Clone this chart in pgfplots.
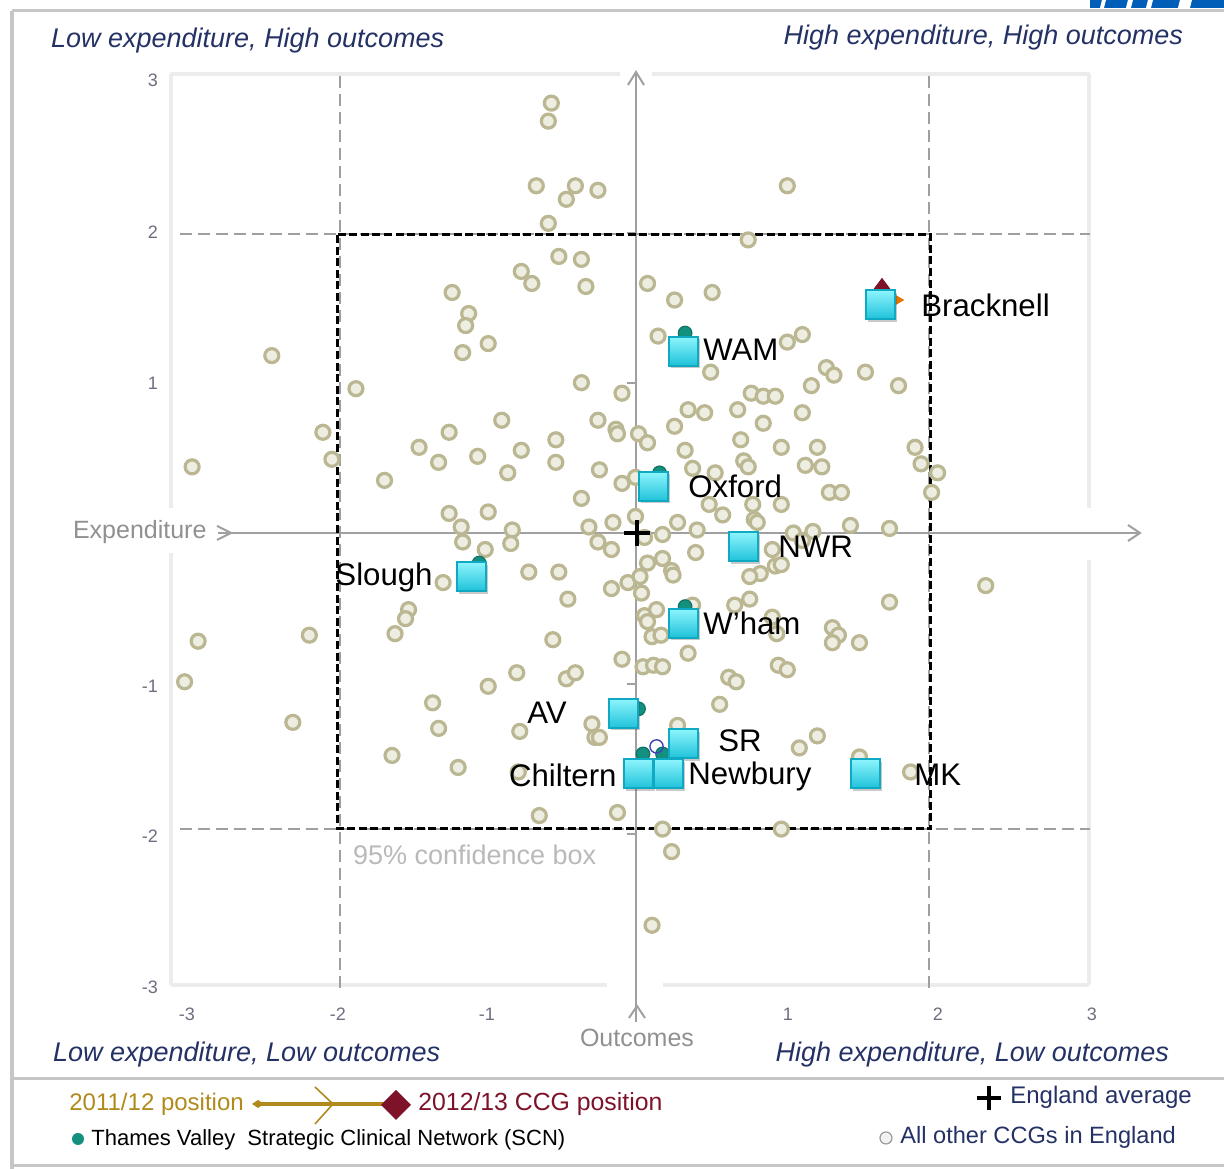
\documentclass[border=0pt]{standalone}
\usepackage{fontspec}
\setmainfont{Liberation Sans}
\usepackage{pgfplots}
\pgfplotsset{compat=1.18}
\usetikzlibrary{shadows}
\definecolor{dotdraw}{HTML}{BAB792}
\definecolor{dotfill}{HTML}{EEEDE2}
\definecolor{tealdot}{HTML}{14907F}
\definecolor{sqtop}{HTML}{8EF5FD}
\definecolor{sqbot}{HTML}{1FC2DA}
\definecolor{sqdraw}{HTML}{10A9C4}
\definecolor{navy}{HTML}{243165}
\definecolor{gold}{HTML}{B08A1C}
\definecolor{maroon}{HTML}{7D1228}
\definecolor{axgray}{HTML}{A0A0A0}
\definecolor{framegray}{HTML}{ECECEC}
\definecolor{outergray}{HTML}{C6C6C6}
\definecolor{ticklab}{HTML}{6D6D80}
\definecolor{nhsblue}{HTML}{005EB8}
\begin{document}
\begin{tikzpicture}
\path[use as bounding box] (0,0) rectangle (612bp,584.5bp);
% ---------- background decorations (pixel grid: 1px = 0.5bp) ----------
\begin{scope}[shift={(0,584.5bp)}, x=0.5bp, y=-0.5bp]
  % NHS logo fragment
  \fill[nhsblue] (1090,0) rectangle (1224,8);
  \fill[white] (1100,8) -- (1104,8) -- (1106,0) -- (1102,0) -- cycle;
  \fill[white] (1126,8) -- (1131,8) -- (1133,0) -- (1128,0) -- cycle;
  \fill[white] (1146,8) -- (1151,8) -- (1153,0) -- (1148,0) -- cycle;
  \fill[white] (1178,8) -- (1190,8) -- (1192,0) -- (1180,0) -- cycle;
  % outer frame
  \draw[outergray, line width=1.5bp] (12,11) -- (1224,11);
  \draw[outergray, line width=2bp] (12,11) -- (12,1169);
  \draw[outergray, line width=1.5bp] (12,1079) -- (1224,1079);
  \draw[outergray, line width=1.5bp] (12,1166) -- (1224,1166);
  % light plot frame
  \begin{scope}[framegray, line width=2bp]
    \draw (170,74) -- (620,74); \draw (652,74) -- (1090,74);
    \draw (171,74) -- (171,508); \draw (171,553) -- (171,985);
    \draw (171,985) -- (607,985); \draw (663,985) -- (1089,985);
    \draw (1089,74) -- (1089,508); \draw (1089,560) -- (1089,985);
  \end{scope}
  % thin grey dashed lines
  \begin{scope}[gray!75, line width=0.6bp, dash pattern=on 6bp off 3bp]
    \draw (180,234) -- (1090,234);
    \draw (180,829) -- (1090,829);
    \draw (340,76) -- (340,990);
    \draw (929,76) -- (929,990);
  \end{scope}
  % axes with arrows
  \begin{scope}[axgray, line width=1bp]
    \draw (218,533) -- (1140,533);
    \draw (217,526) -- (231,533) -- (217,540);
    \draw (1128,525) -- (1140,533) -- (1128,541);
    \draw (636,72) -- (636,1022);
    \draw (628,85) -- (636,72) -- (644,85);
    \draw (629,1018) -- (637,1006) -- (645,1018);
    \foreach \yy in {233,383,684,834} \draw (627,\yy) -- (636,\yy);
  \end{scope}
  % 95% confidence box
  \draw[black, line width=1.5bp, dash pattern=on 4bp off 1.8bp] (338,235) rectangle (931,829);
  % axis texts
  \node[anchor=west, text=axgray!90!black, font=\fontsize{12.5bp}{14bp}\selectfont] at (66,532) {Expenditure};
  \node[text=axgray!90!black, font=\fontsize{12.5bp}{14bp}\selectfont] at (637,1038) {Outcomes};
  \node[anchor=west, text=gray!55, font=\fontsize{13.5bp}{15bp}\selectfont] at (346,855) {95\% confidence box};
  % tick labels
  \begin{scope}[font=\fontsize{9bp}{10bp}\selectfont, text=ticklab]
    \node[anchor=east] at (165,80) {3};
    \node[anchor=east] at (165,232) {2};
    \node[anchor=east] at (165,383) {1};
    \node[anchor=east] at (165,686) {-1};
    \node[anchor=east] at (165,836) {-2};
    \node[anchor=east] at (165,987) {-3};
    \node at (187,1014) {-3};
    \node at (338,1014) {-2};
    \node at (487,1014) {-1};
    \node at (788,1014) {1};
    \node at (938,1014) {2};
    \node at (1092,1014) {3};
  \end{scope}
  % quadrant labels
  \begin{scope}[text=navy, font=\fontsize{13.5bp}{15bp}\selectfont\itshape]
    \node[anchor=west] at (44,41) {Low expenditure, High outcomes};
    \node[anchor=east] at (1190,38) {High expenditure, High outcomes};
    \node[anchor=west] at (46,1055) {Low expenditure, Low outcomes};
    \node[anchor=east] at (1176,1055) {High expenditure, Low outcomes};
  \end{scope}
  % legend
  \node[anchor=west, text=gold, font=\fontsize{12bp}{14bp}\selectfont, inner sep=0pt] at (69,1104) {2011/12 position};
  \draw[gold, line width=2bp] (258,1104) -- (390,1104);
  \fill[gold] (252,1104) -- (258,1100) -- (264,1104) -- (258,1108) -- cycle;
  \draw[gold, line width=0.8bp] (315,1087) -- (333,1104) -- (315,1124);
  \fill[maroon] (381,1105) -- (396,1090) -- (411,1105) -- (396,1120) -- cycle;
  \node[anchor=west, text=maroon, font=\fontsize{12.4bp}{14bp}\selectfont, inner sep=0pt] at (418,1104) {2012/13 CCG position};
  \fill[tealdot] (78,1139) circle (6);
  \node[anchor=west, font=\fontsize{11bp}{13bp}\selectfont, inner sep=0pt] at (91,1140) {Thames Valley\ \ Strategic Clinical Network (SCN)};
  \draw[black, line width=2bp] (977,1098) -- (1001,1098) (989,1086) -- (989,1110);
  \node[anchor=west, text=navy, font=\fontsize{12bp}{14bp}\selectfont, inner sep=0pt] at (1010,1097) {England average};
  \draw[gray!80, fill=gray!10, line width=0.6bp] (886,1138) circle (6);
  \node[anchor=west, text=navy, font=\fontsize{11.8bp}{14bp}\selectfont, inner sep=0pt] at (900,1137) {All other CCGs in England};
\end{scope}
% ---------- data ----------
\begin{axis}[at={(0,0)}, anchor=south west, width=612bp, height=584.5bp, scale only axis,
  xmin=-4.2382, xmax=3.9055, ymin=-4.2315, ymax=3.5462, hide axis, clip=false]
% all other CCGs
\addplot[only marks, mark=*, mark size=3.5bp, mark options={draw=dotdraw, fill=dotfill, line width=1.6bp}] coordinates {
(-0.57,2.86) (-0.59,2.74) (-0.67,2.31) (-0.41,2.31) (-0.47,2.22) (-0.26,2.28) (-0.59,2.06)
(1.00,2.31) (0.74,1.95) (-0.52,1.84) (-0.37,1.82) (-0.77,1.74) (-0.70,1.66) (-0.34,1.64)
(-1.23,1.60) (-1.12,1.46) (-1.14,1.38) (-0.99,1.26) (-1.16,1.20) (-2.43,1.18) (-1.87,0.96)
(-0.37,1.00) (-0.10,0.93) (0.07,1.66) (0.25,1.55) (0.50,1.60) (0.14,1.31) (1.00,1.27)
(1.10,1.32) (0.49,1.07) (1.26,1.10) (1.31,1.05) (1.52,1.07) (1.74,0.98) (1.16,0.98)
(0.76,0.93) (0.84,0.91) (0.92,0.91) (0.34,0.82) (0.45,0.80) (0.67,0.82) (1.10,0.80)
(0.25,0.71) (0.84,0.73) (0.01,0.66) (0.07,0.60) (0.69,0.62) (0.32,0.55) (0.96,0.57)
(1.20,0.57) (1.85,0.57) (0.71,0.48) (0.74,0.44) (1.12,0.45) (1.23,0.44) (0.37,0.43)
(0.52,0.40) (1.89,0.46) (2.00,0.40) (1.28,0.27) (1.36,0.27) (1.96,0.27) (0.48,0.19)
(0.77,0.19) (0.96,0.19) (-0.01,0.11) (0.57,0.12) (0.78,0.09) (0.80,0.07) (0.27,0.07)
(0.40,0.02) (0.17,-0.01) (1.42,0.05) (1.68,0.03) (1.04,0.00) (1.17,0.01)
(-0.90,0.75) (-0.26,0.75) (-0.14,0.69) (-0.13,0.66) (-2.09,0.67) (-1.25,0.67) (-1.45,0.57)
(-0.54,0.62) (-0.77,0.55) (-2.03,0.49) (-1.32,0.47) (-1.06,0.51) (-0.54,0.47) (-0.86,0.40)
(-0.25,0.42) (-2.96,0.44) (-1.68,0.35) (-0.10,0.33) (-0.01,0.37) (-0.37,0.23) (-1.25,0.13)
(-0.99,0.14) (-0.16,0.07) (-1.17,0.04) (-0.83,0.02) (-0.32,0.04) (-1.16,-0.06) (-0.84,-0.07)
(-0.26,-0.06) (-0.17,-0.11) (-1.01,-0.11) (0.05,-0.03)
(-1.29,-0.33) (-0.72,-0.26) (-0.52,-0.26) (-0.46,-0.44) (-0.17,-0.37) (-0.06,-0.33)
(0.02,-0.29) (0.03,-0.40) (0.05,-0.55) (-0.56,-0.71) (-0.10,-0.84) (0.04,-0.89)
(-0.80,-0.93) (-0.47,-0.97) (-0.41,-0.93) (-0.99,-1.02) (-1.36,-1.13) (-1.52,-0.51)
(-1.54,-0.57) (-1.61,-0.67) (-2.92,-0.72) (-2.18,-0.68) (-3.01,-0.99) (-2.29,-1.26)
(-1.32,-1.30) (-0.78,-1.32) (-0.30,-1.27) (-0.28,-1.36) (-0.25,-1.36) (-1.63,-1.48)
(-1.19,-1.56) (-0.65,-1.88) (-0.13,-1.86) (-0.79,-1.59)
(0.39,-0.13) (0.07,-0.20) (0.17,-0.17) (0.23,-0.25) (0.24,-0.28) (0.13,-0.51) (0.07,-0.59)
(0.10,-0.69) (0.16,-0.68) (0.34,-0.80) (0.11,-0.88) (0.17,-0.89) (0.61,-0.96) (0.66,-0.99)
(0.55,-1.14) (0.94,-0.88) (1.00,-0.91) (1.30,-0.63) (1.34,-0.68) (1.30,-0.73) (1.48,-0.73)
(1.68,-0.46) (2.32,-0.35) (0.90,-0.56) (0.93,-0.67) (0.65,-0.48) (0.75,-0.44) (0.82,-0.27)
(0.92,-0.22) (0.96,-0.21) (0.75,-0.29) (0.90,-0.11) (1.10,-0.05) (0.27,-1.28) (1.08,-1.43)
(1.20,-1.35) (1.82,-1.59) (1.48,-1.49) (0.17,-1.97) (0.96,-1.97) (0.23,-2.12) (0.10,-2.61)
(0.37,-0.48)
};
% England average
\addplot[only marks, mark=+, mark size=6.5bp, mark options={draw=black, line width=2bp}] coordinates {(0,0)};
% Thames Valley SCN (2011/12 markers peeking out)
\addplot[only marks, mark=*, mark size=3.4bp, mark options={draw=tealdot!80!black, fill=tealdot, line width=0.6bp}] coordinates {
(0.32,1.33) (0.15,0.40) (-1.05,-0.20) (0.32,-0.49) (0.01,-1.17) (0.04,-1.47) (0.17,-1.47)
};
\addplot[only marks, mark=o, mark size=3.3bp, mark options={draw=blue!50!gray, line width=0.7bp}] coordinates {(0.13,-1.42)};
\addplot[only marks, mark=diamond*, mark size=5.5bp, mark options={draw=maroon, fill=maroon}] coordinates {(1.63,1.62)};
\addplot[only marks, mark=triangle*, mark size=2.5bp, mark options={draw=orange!90!black, fill=orange!90!black, rotate=-90}] coordinates {(1.74,1.55)};
% 2012/13 CCG positions (squares)
\addplot[draw=none, mark=none, nodes near coords={},
  every node near coord/.style={anchor=center, inner sep=0pt, minimum size=14.5bp, draw=sqdraw, line width=0.9bp,
    top color=sqtop, bottom color=sqbot,
    drop shadow={shadow xshift=1bp, shadow yshift=-1.3bp, opacity=0.3, fill=black!70}}] coordinates {
(1.62,1.52) (0.31,1.21) (0.11,0.31) (0.71,-0.09) (-1.10,-0.29) (0.31,-0.60)
(-0.09,-1.20) (0.31,-1.40) (0.01,-1.60) (0.21,-1.60) (1.52,-1.60)
};
\end{axis}
% ---------- CCG labels ----------
\begin{scope}[shift={(0,584.5bp)}, x=0.5bp, y=-0.5bp, font=\fontsize{15.6bp}{18bp}\selectfont]
  \node[anchor=west, inner sep=0pt] at (921,305) {Bracknell};
  \node[anchor=west, inner sep=0pt] at (703,350) {WAM};
  \node[anchor=west, inner sep=0pt] at (688,486) {Oxford};
  \node[anchor=west, inner sep=0pt] at (778,547) {NWR};
  \node[anchor=east, inner sep=0pt] at (433,577) {Slough};
  \node[anchor=west, inner sep=0pt] at (703,623) {W’ham};
  \node[anchor=east, inner sep=0pt] at (567,713) {AV};
  \node[anchor=west, inner sep=0pt] at (718,741) {SR};
  \node[anchor=east, inner sep=0pt] at (617,775) {Chiltern};
  \node[anchor=west, inner sep=0pt] at (688,776) {Newbury};
  \node[anchor=west, inner sep=0pt] at (914,775) {MK};
\end{scope}
\end{tikzpicture}
\end{document}
